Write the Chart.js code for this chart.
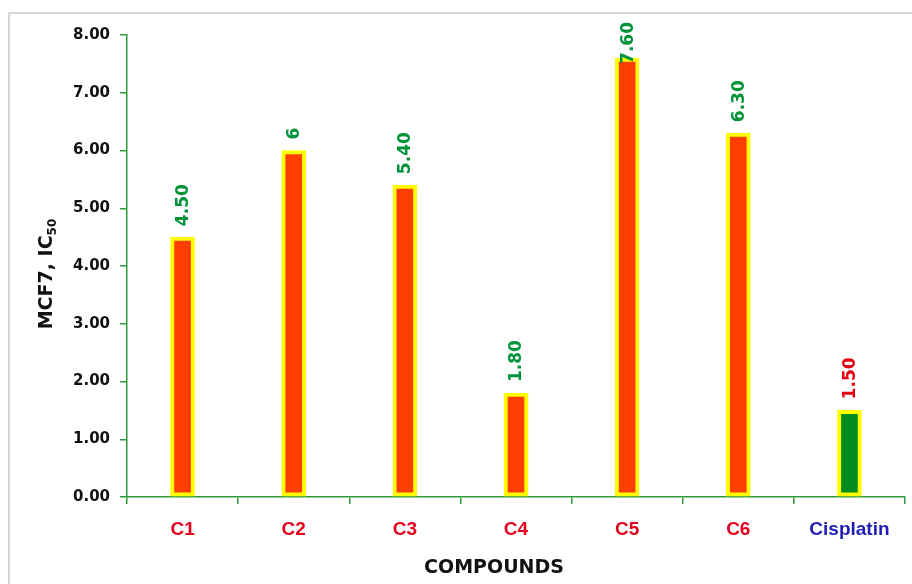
<!DOCTYPE html>
<html>
<head>
<meta charset="utf-8">
<script src="https://cdn.jsdelivr.net/npm/chart.js@4/dist/chart.umd.min.js"></script>
<style>
  html, body { margin: 0; padding: 0; background: #fff; }
  #wrap { position: relative; width: 912px; height: 584px; overflow: hidden; }
  #frame { position: absolute; left: 8px; top: 12px; width: 940px; height: 620px;
           border: 2px solid #d6d6d6; box-sizing: border-box; }
  canvas { position: absolute; left: 0; top: 0; }
</style>
</head>
<body>
<div id="wrap">
  <div id="frame"></div>
  <canvas id="chart" width="912" height="584"></canvas>
</div>
<script>
// IC50 values against MCF7 cells
const compounds   = ['C1', 'C2', 'C3', 'C4', 'C5', 'C6', 'Cisplatin'];
const ic50        = [4.5, 6, 5.4, 1.8, 7.6, 6.3, 1.5];
const valueLabels = ['4.50', '6', '5.40', '1.80', '7.60', '6.30', '1.50'];
const yTickValues = [0, 1, 2, 3, 4, 5, 6, 7, 8];

const AXIS_GREEN = '#2f9a3c';
const barFill     = compounds.map(c => c === 'Cisplatin' ? '#008c1e' : '#ff3d00');
const labelColors = compounds.map(c => c === 'Cisplatin' ? '#e8000e' : '#00933a');
const catColors   = compounds.map(c => c === 'Cisplatin' ? '#1e1eb4' : '#e5001e');

const annotate = {
  id: 'annotate',
  afterDatasetsDraw(chart) {
    const ctx = chart.ctx;
    const meta = chart.getDatasetMeta(0);
    const ys = chart.scales.y;

    // rotated value labels above each bar, kept inside the frame at the top
    ctx.save();
    ctx.font = 'bold 17px "DejaVu Sans"';
    ctx.textAlign = 'left';
    ctx.textBaseline = 'middle';
    meta.data.forEach((bar, i) => {
      const top = ys.getPixelForValue(ic50[i]);
      const w = ctx.measureText(valueLabels[i]).width;
      const startY = Math.max(top - 11, 22 + w);
      ctx.save();
      ctx.translate(bar.x + 1, startY);
      ctx.rotate(-Math.PI / 2);
      ctx.fillStyle = labelColors[i];
      ctx.fillText(valueLabels[i], 0, 0);
      ctx.restore();
    });
    ctx.restore();

    // y axis title with subscript
    ctx.save();
    ctx.fillStyle = '#111';
    ctx.textBaseline = 'alphabetic';
    const mainFont = 'bold 19px "DejaVu Sans"';
    const subFont = 'bold 12px "DejaVu Sans"';
    ctx.font = mainFont;
    const mainTxt = 'MCF7, IC';
    const w1 = ctx.measureText(mainTxt).width;
    ctx.font = subFont;
    const w2 = ctx.measureText('50').width;
    ctx.translate(52, 274);
    ctx.rotate(-Math.PI / 2);
    const start = -(w1 + w2) / 2;
    ctx.font = mainFont;
    ctx.fillText(mainTxt, start, 0);
    ctx.font = subFont;
    ctx.fillText('50', start + w1, 4);
    ctx.restore();

    // x axis title
    ctx.save();
    ctx.fillStyle = '#111';
    ctx.font = 'bold 19px "DejaVu Sans"';
    ctx.textAlign = 'center';
    ctx.textBaseline = 'middle';
    ctx.fillText('COMPOUNDS', 494, 568);
    ctx.restore();
  }
};

new Chart(document.getElementById('chart'), {
  type: 'bar',
  data: {
    labels: compounds,
    datasets: [{
      data: ic50,
      backgroundColor: barFill,
      borderColor: '#ffff00',
      borderWidth: 4,
      borderSkipped: false,
      barThickness: 24
    }]
  },
  options: {
    responsive: false,
    animation: false,
    layout: { padding: { top: 35, right: 7, left: 0, bottom: 0 } },
    plugins: { legend: { display: false }, tooltip: { enabled: false } },
    scales: {
      x: {
        grid: { display: true, drawOnChartArea: false, color: AXIS_GREEN, lineWidth: 1.5, tickLength: 7, offset: true },
        border: { color: AXIS_GREEN, width: 1.5 },
        ticks: {
          color: ctx => catColors[ctx.index],
          font: { family: '"Liberation Sans"', weight: 'bold', size: 19 },
          padding: 14
        },
        afterFit: s => { s.height = 87; }
      },
      y: {
        min: 0,
        max: 8,
        afterBuildTicks: s => { s.ticks = yTickValues.map(v => ({ value: v })); },
        grid: { display: true, drawOnChartArea: false, color: AXIS_GREEN, lineWidth: 1.5, tickLength: 7 },
        border: { color: AXIS_GREEN, width: 1.5 },
        ticks: {
          color: '#111',
          font: { family: '"DejaVu Sans"', weight: 'bold', size: 15 },
          padding: 10,
          callback: v => Number(v).toFixed(2)
        },
        afterFit: s => { s.width = 127; }
      }
    }
  },
  plugins: [annotate]
});
</script>
</body>
</html>
